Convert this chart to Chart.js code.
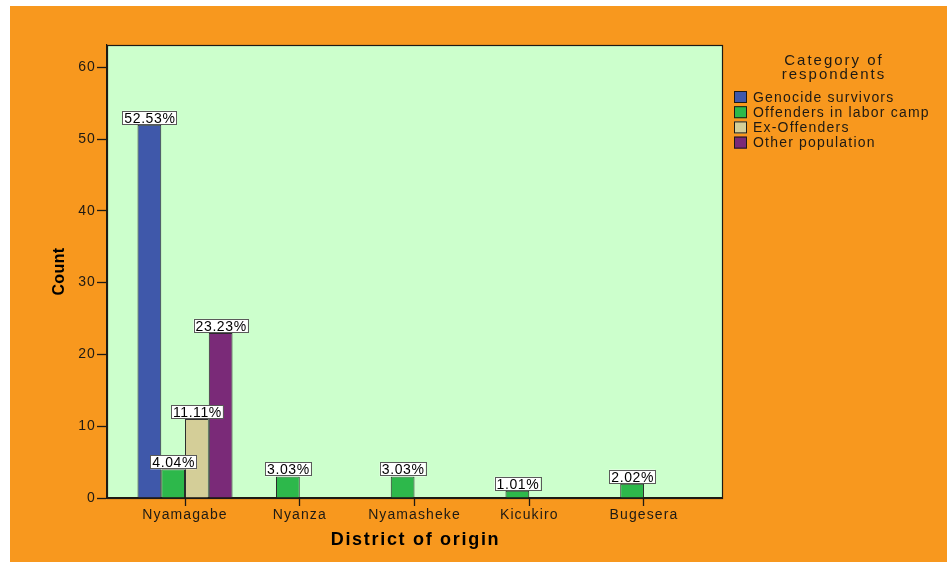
<!DOCTYPE html>
<html>
<head>
<script src="https://cdn.jsdelivr.net/npm/chart.js@4/dist/chart.umd.min.js"></script>
<style>
body { margin: 0; background: #fff; }
</style>
</head>
<body>
<canvas id="chart" width="947" height="562"></canvas>
<script>
// data
const districts = ['Nyamagabe', 'Nyanza', 'Nyamasheke', 'Kicukiro', 'Bugesera'];
const categories = ['Genocide survivors', 'Offenders in labor camp', 'Ex-Offenders', 'Other population'];
const survivors = [52, null, null, null, null];
const offendersCamp = [4, 3, 3, 1, 2];
const exOffenders = [11, null, null, null, null];
const otherPopulation = [23, null, null, null, null];
const yTicks = [0, 10, 20, 30, 40, 50, 60];

const colours = ['#3F58AA', '#2DB84B', '#D4CE98', '#7A2A78'];
const series = [survivors, offendersCamp, exOffenders, otherPopulation];
const total = series.flat().reduce((a, v) => a + (v || 0), 0);

const FONT = "'Liberation Sans', Arial, sans-serif";
const ORANGE = '#F8981E';
const INK = '#1e1a14';

// background, plot area, border
const backdrop = {
    id: 'backdrop',
    beforeLayout(chart) {
        chart.ctx.letterSpacing = '1.1px';
    },
    beforeDraw(chart) {
        const { ctx, chartArea: a } = chart;
        ctx.save();
        ctx.fillStyle = '#fff';
        ctx.fillRect(0, 0, chart.width, chart.height);
        ctx.fillStyle = ORANGE;
        ctx.fillRect(10, 6, chart.width - 10, chart.height - 6);
        ctx.fillStyle = '#CCFFCC';
        ctx.fillRect(a.left, a.top, a.right - a.left, a.bottom - a.top);
        ctx.restore();
        ctx.letterSpacing = '1.1px';
    },
    afterDraw(chart) {
        const { ctx, chartArea: a } = chart;
        ctx.save();
        ctx.strokeStyle = INK;
        ctx.lineWidth = 1.2;
        ctx.strokeRect(a.left + 0.5, a.top + 0.5, a.right - a.left, a.bottom - a.top);

        // axis titles
        ctx.fillStyle = '#000';
        ctx.textAlign = 'center';
        ctx.textBaseline = 'middle';
        ctx.font = "bold 18px " + FONT;
        ctx.letterSpacing = '1.7px';
        ctx.fillText('District of origin', (a.left + a.right) / 2 + 1, 540);
        ctx.translate(60, (a.top + a.bottom) / 2);
        ctx.rotate(-Math.PI / 2);
        ctx.font = "bold 16px " + FONT;
        ctx.letterSpacing = '0.4px';
        ctx.fillText('Count', 0, 0);
        ctx.restore();

        // legend
        ctx.save();
        ctx.fillStyle = INK;
        ctx.textAlign = 'center';
        ctx.textBaseline = 'middle';
        ctx.font = "15px " + FONT;
        ctx.letterSpacing = '2px';
        ctx.fillText('Category of', 834, 61);
        ctx.fillText('respondents', 834, 75);
        ctx.textAlign = 'left';
        ctx.font = "14px " + FONT;
        ctx.letterSpacing = '1.2px';
        categories.forEach((name, i) => {
            const cy = 97 + i * 15.2;
            ctx.fillStyle = colours[i];
            ctx.fillRect(734, cy - 6, 13, 12);
            ctx.strokeStyle = INK;
            ctx.lineWidth = 1;
            ctx.strokeRect(734.5, cy - 5.5, 12, 11);
            ctx.fillStyle = INK;
            ctx.fillText(name, 753, cy + 1);
        });
        ctx.restore();
    },
    afterDatasetsDraw(chart) {
        // percentage boxes above bars
        const { ctx } = chart;
        ctx.save();
        ctx.font = "14px " + FONT;
        ctx.letterSpacing = '0.6px';
        ctx.textAlign = 'center';
        ctx.textBaseline = 'middle';
        chart.data.datasets.forEach((ds, di) => {
            const meta = chart.getDatasetMeta(di);
            meta.data.forEach((bar, i) => {
                const v = ds.data[i].y;
                if (v == null) return;
                const txt = (v / total * 100).toFixed(2) + '%';
                const w = ctx.measureText(txt).width + 3;
                const h = 14;
                const x = bar.x - w / 2;
                const y = bar.y - h;
                ctx.fillStyle = '#fff';
                ctx.fillRect(x, y, w, h);
                ctx.strokeStyle = '#5a5a5a';
                ctx.lineWidth = 1;
                ctx.strokeRect(Math.round(x) + 0.5, Math.round(y) + 0.5, Math.round(w), h - 1);
                ctx.fillStyle = '#000';
                ctx.fillText(txt, bar.x + 0.5, y + h / 2 + 1);
            });
        });
        ctx.restore();
    }
};

new Chart(document.getElementById('chart'), {
    type: 'bar',
    data: {
        datasets: series.map((vals, k) => ({
            label: categories[k],
            data: vals.map((v, i) => ({ x: i, y: v })),
            backgroundColor: colours[k],
            borderColor: '#2a2a2a',
            borderWidth: 1,
            categoryPercentage: 0.828,
            barPercentage: 1
        }))
    },
    options: {
        responsive: false,
        animation: false,
        devicePixelRatio: 1,
        layout: { padding: { left: 0, right: 225, top: 45, bottom: 0 } },
        plugins: { legend: { display: false }, tooltip: { enabled: false } },
        scales: {
            x: {
                type: 'linear',
                bounds: 'data',
                offset: false,
                min: -0.68,
                max: 4.68,
                afterBuildTicks: (s) => { s.ticks = districts.map((_, i) => ({ value: i })); },
                afterFit: (s) => { s.height = 64; },
                grid: { offset: false, drawOnChartArea: false, drawTicks: true, tickLength: 8, tickColor: INK, tickWidth: 1.3 },
                border: { display: true, color: INK, width: 1.2 },
                ticks: {
                    autoSkip: false,
                    maxRotation: 0,
                    padding: 1,
                    color: INK,
                    font: { family: FONT, size: 14 },
                    callback: (v) => districts[v]
                }
            },
            y: {
                bounds: 'data',
                min: 0,
                max: 63.1,
                afterBuildTicks: (s) => { s.ticks = yTicks.map(v => ({ value: v })); },
                afterFit: (s) => { s.width = 107; },
                grid: { drawOnChartArea: false, drawTicks: true, tickLength: 10, tickColor: INK, tickWidth: 1.3 },
                border: { display: true, color: INK, width: 1.2 },
                ticks: { padding: 1, color: INK, font: { family: FONT, size: 14 } }
            }
        }
    },
    plugins: [backdrop]
});
</script>
</body>
</html>
